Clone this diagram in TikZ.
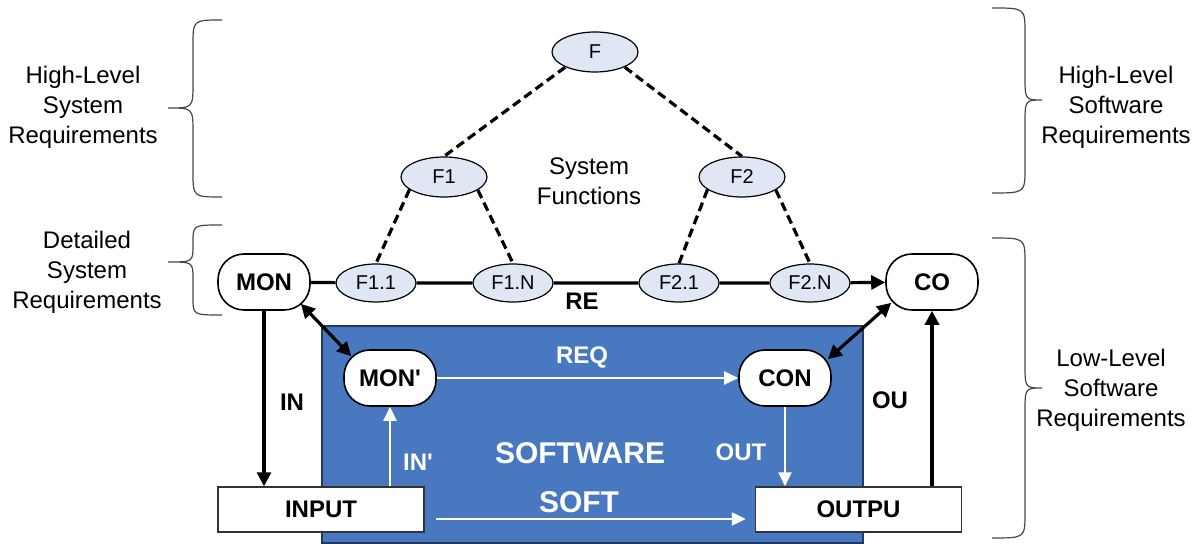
\documentclass[tikz,border=0pt]{standalone}
\usepackage{fontspec}
\setmainfont{Liberation Sans}
\usetikzlibrary{arrows.meta,shapes.geometric}

\definecolor{swblue}{RGB}{72,120,192}
\definecolor{swedge}{RGB}{35,55,95}
\definecolor{fnfill}{RGB}{223,231,245}
\definecolor{bracegray}{RGB}{70,70,70}

% curly brace: end x, spine x, tip x, top y, tip y, bottom y, bend size
\newcommand{\curlybrace}[7]{%
  \draw[bracestroke] (#1,#4) .. controls (#2,#4) .. (#2,{#4+#7})
    -- (#2,{#5-#7}) .. controls (#2,#5) .. (#3,#5)
    .. controls (#2,#5) .. (#2,{#5+#7})
    -- (#2,{#6-#7}) .. controls (#2,#6) .. (#1,#6);}

\tikzset{
  bracestroke/.style={draw=bracegray, line width=0.6pt},
  sidetext/.style={align=center, font=\fontsize{12}{15}\selectfont},
  fn/.style={ellipse, draw, line width=0.6pt, fill=fnfill, inner sep=0pt,
    minimum width=43pt, minimum height=20pt, font=\fontsize{10}{12}\selectfont},
  fnsmall/.style={fn, minimum width=40pt, minimum height=19pt},
  reqbox/.style={draw, line width=0.8pt, fill=white, rounded corners=13pt,
    minimum width=46pt, minimum height=28pt, inner sep=0pt,
    font=\fontsize{12}{14}\selectfont\bfseries},
  iobox/.style={draw=black!80, line width=0.7pt, fill=white,
    minimum width=103pt, minimum height=22.5pt, inner sep=0pt,
    font=\fontsize{12}{14}\selectfont\bfseries},
  swarea/.style={draw=swedge, line width=0.6pt, fill=swblue, inner sep=0pt,
    minimum width=270.5pt, minimum height=108.5pt},
  flow/.style={line width=1.6pt, black},
  dep/.style={line width=1.6pt, dash pattern=on 4.5pt off 2.5pt},
  tip/.style={-{Triangle[length=7pt,width=7pt]}},
  bitip/.style={{Triangle[length=7pt,width=7pt]}-{Triangle[length=7pt,width=7pt]}},
  wflow/.style={line width=1.1pt, white, -{Triangle[length=7pt,width=6.5pt]}},
  blab/.style={font=\fontsize{12}{14}\selectfont\bfseries},
  wlab/.style={blab, text=white},
  biglab/.style={font=\fontsize{15}{18}\selectfont\bfseries, text=white},
}

\begin{document}
\begin{tikzpicture}[x=0.5pt, y=-0.5pt]
\useasboundingbox (0,0) rectangle (1198,544);

% software region
\node[swarea] (area) at (592.5,434.5) {};

% braces and side captions
\curlybrace{222}{193}{168}{20}{108}{197}{25}
\curlybrace{222}{193}{168}{225}{262}{315}{17}
\curlybrace{992}{1025}{1042}{8}{100}{193}{25}
\curlybrace{992}{1025}{1042}{238}{388}{538}{25}

\node[sidetext] (hlsys) at (83,107) {High-Level\\System\\Requirements};
\node[sidetext] (detsys) at (87,272) {Detailed\\System\\Requirements};
\node[sidetext] (hlsw) at (1116,107) {High-Level\\Software\\Requirements};
\node[sidetext] (llsw) at (1111,390) {Low-Level\\Software\\Requirements};

% function tree
\node[fn] (F) at (595,52) {F};
\node[fn] (F1) at (444,177) {F1};
\node[fn] (F2) at (742,177) {F2};
\node[fnsmall] (F11) at (376,283) {F1.1};
\node[fnsmall] (F1N) at (513,283) {F1.N};
\node[fnsmall] (F21) at (679,283) {F2.1};
\node[fnsmall] (F2N) at (810,283) {F2.N};
\node[sidetext] (sysfn) at (589,181) {System\\Functions};

\draw[dep] (F.-153) -- (F1.north);
\draw[dep] (F.-27) -- (F2.north);
\draw[dep] (F1.-160) -- (F11.north);
\draw[dep] (F1.-21) -- (F1N.north);
\draw[dep] (F2.-160) -- (F21.north);
\draw[dep] (F2.-21) -- (F2N.north);

% system level boxes
\node[reqbox] (MON) at (264,282) {MON};
\node[reqbox] (CO) at (932,282) {CO};
\node[iobox] (INPUT) at (321,509.5) {INPUT};
\node[iobox] (OUTPU) at (858.5,509.5) {OUTPU};

% software level boxes
\node[reqbox] (MONp) at (390,378) {MON\textquotesingle};
\node[reqbox] (CON) at (785,378) {CON};

% system connectors
\draw[flow] (MON) -- (F11) -- (F1N) -- (F21) -- (F2N);
\draw[flow, tip] (F2N) -- (CO);
\draw[flow, tip] (MON.south) -- (MON.south |- INPUT.north);
\draw[flow, tip] (CO.south |- OUTPU.north) -- (CO.south);
\draw[flow, bitip] ([shift={(-10,-7)}]MON.south east) -- ([shift={(8,7)}]MONp.north west);
\draw[flow, bitip] ([shift={(6,-8)}]CO.south west) -- ([shift={(-4,10)}]CON.north east);

% software connectors
\draw[wflow] (MONp.east) -- (CON.west);
\draw[wflow] (INPUT.north -| MONp.south) -- (MONp.south);
\draw[wflow] (CON.south) -- (CON.south |- OUTPU.north);
\draw[wflow] ([shift={(11,9.5)}]INPUT.east) -- ([shift={(-9,9.5)}]OUTPU.west);

% labels
\node[blab] (lRE) at (582,301) {RE};
\node[blab] (lIN) at (292,402) {IN};
\node[blab] (lOU) at (890,400) {OU};
\node[wlab] (lREQ) at (582,357) {REQ};
\node[wlab] (lINp) at (418,462) {IN\textquotesingle};
\node[wlab] (lOUT) at (741,452) {OUT};
\node[biglab] (lSW) at (580,453) {SOFTWARE};
\node[biglab] (lSOFT) at (579,502) {SOFT};
\end{tikzpicture}
\end{document}
